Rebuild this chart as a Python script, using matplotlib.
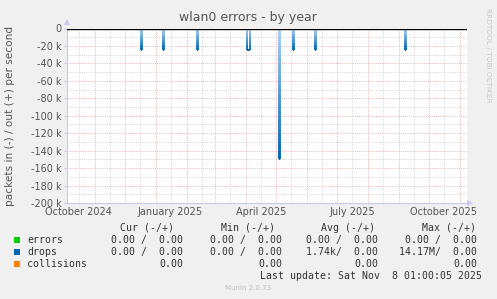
import matplotlib
matplotlib.use("Agg")
import matplotlib.pyplot as plt
import matplotlib.dates as mdates
from matplotlib.collections import LineCollection
from matplotlib.colors import LinearSegmentedColormap
import numpy as np
import pandas as pd

# ---- data ----
start_date = "2024-10-04"
end_date = "2025-11-08"
spike_dates = ["2024-12-17", "2025-01-08", "2025-02-11", "2025-04-02", "2025-04-03",
               "2025-04-04", "2025-05-04", "2025-05-18", "2025-06-09", "2025-09-07"]
spike_drops_in = [25000, 25000, 25000, 25000, 25000, 25000, 150000, 25000, 25000, 25000]
month_labels = ["October 2024", "January 2025", "April 2025", "July 2025", "October 2025"]
month_label_dates = ["2024-10-15", "2025-01-15", "2025-04-16", "2025-07-16", "2025-10-15"]
yticks = [0, -20000, -40000, -60000, -80000, -100000, -120000, -140000, -160000, -180000, -200000]
ytick_labels = ["0", "-20 k", "-40 k", "-60 k", "-80 k", "-100 k", "-120 k", "-140 k",
                "-160 k", "-180 k", "-200 k"]
legend_names = ["errors", "drops", "collisions"]
legend_colors = ["#00CC00", "#0066B3", "#FF8000"]
cur_vals = ["0.00 /  0.00", "0.00 /  0.00", "0.00"]
min_vals = ["0.00 /  0.00", "0.00 /  0.00", "0.00"]
avg_vals = ["0.00 /  0.00", "1.74k/  0.00", "0.00"]
max_vals = ["0.00 /  0.00", "14.17M/  0.00", "0.00"]

# ---- figure ----
W, H = 497, 299
fig = plt.figure(figsize=(W / 100, H / 100), dpi=100, facecolor="#F0F0F0")
x0, x1, ytop, ybot = 67, 467, 28.5, 203
ax = fig.add_axes([x0 / W, 1 - ybot / H, (x1 - x0) / W, (ybot - ytop) / H])
ax.set_facecolor("white")

days = pd.date_range(start_date, end_date, freq="D")
drops = pd.Series(0.0, index=days)
drops.loc[pd.to_datetime(spike_dates)] = spike_drops_in
yv = -drops.values
xv = mdates.date2num(days)

# step path (post), vertical edges shaded from light (top) to dark (bottom) per spike
cmap = LinearSegmentedColormap.from_list("drop", ["#A8D0F0", "#0066B3"])
segs, cols = [], []
n_sub = 30
for i in range(len(xv) - 1):
    # horizontal piece
    if yv[i] != 0:
        segs.append([(xv[i], yv[i]), (xv[i + 1], yv[i])])
        cols.append(cmap(1.0))
    # vertical edge at xv[i+1] from yv[i] to yv[i+1]
    a, b = yv[i], yv[i + 1]
    if a != b:
        depth = min(a, b)
        ys = np.linspace(a, b, n_sub + 1)
        for j in range(n_sub):
            segs.append([(xv[i + 1], ys[j]), (xv[i + 1], ys[j + 1])])
            frac = ((ys[j] + ys[j + 1]) / 2) / depth
            cols.append(cmap(frac))
    if i == 0 and yv[0] != 0:
        pass
lc = LineCollection(segs, colors=cols, linewidths=1.4, zorder=3, capstyle="butt")
ax.add_collection(lc)
ax.axhline(0, color="black", lw=1.0, zorder=4)

ax.set_xlim(pd.Timestamp(start_date), pd.Timestamp(end_date))
ax.set_ylim(-200000, 0)

# grid
major_months = pd.date_range("2024-11-01", "2025-11-01", freq="MS")
minor_mid = [d for d in pd.date_range("2024-10-01", "2025-11-01", freq="MS") + pd.Timedelta(days=15)]
for d in minor_mid:
    ax.axvline(d, color="#C8C8C8", lw=0.6, ls=(0, (1, 1.5)), zorder=1)
for d in major_months:
    ax.axvline(d, color="#E8A0A0", lw=0.6, ls=(0, (1, 1.5)), zorder=1)
for v in np.arange(-190000, 0, 20000):
    ax.axhline(v, color="#C8C8C8", lw=0.6, ls=(0, (1, 1.5)), zorder=1)
for v in yticks[1:]:
    ax.axhline(v, color="#E8A0A0", lw=0.6, ls=(0, (1, 1.5)), zorder=1)

for s in ["top", "right"]:
    ax.spines[s].set_visible(False)
for s in ["left", "bottom"]:
    ax.spines[s].set_color("#C8C8F0")
    ax.spines[s].set_linewidth(0.8)

ax.set_yticks(yticks)
ax.set_yticklabels(ytick_labels)
ax.tick_params(axis="y", length=2, color="#C8C8F0", labelsize=7, labelcolor="#555555", pad=2)
ax.set_xticks(pd.to_datetime(month_label_dates))
ax.set_xticklabels(month_labels)
ax.tick_params(axis="x", length=0, labelsize=7, labelcolor="#555555", pad=3)

# arrows
fig.patches.append(plt.Polygon([[(x0 - 3) / W, 1 - 25 / H], [(x0 + 3) / W, 1 - 25 / H],
                                [x0 / W, 1 - 19 / H]], closed=True, transform=fig.transFigure,
                               facecolor="#C8C8F0", edgecolor="none"))
fig.patches.append(plt.Polygon([[(x1) / W, 1 - (ybot - 3) / H], [(x1) / W, 1 - (ybot + 3) / H],
                                [(x1 + 6) / W, 1 - ybot / H]], closed=True, transform=fig.transFigure,
                               facecolor="#C8C8F0", edgecolor="none"))

# texts
fig.text(248 / W, 1 - 18 / H, "wlan0 errors - by year", ha="center", va="center",
         fontsize=9, color="#555555")
fig.text(10 / W, 1 - 116 / H, "packets in (-) / out (+) per second", rotation=90,
         ha="center", va="center", fontsize=7.6, color="#555555")
fig.text(488 / W, 1 - 55 / H, "RRDTOOL / TOBI OETIKER", rotation=270, ha="center",
         va="center", fontsize=5.3, color="#C8C8C8")

mono = "DejaVu Sans Mono"
fs = 7.1
tc = "#333333"
def t(x, y, s, ha="right", **kw):
    fig.text(x / W, 1 - y / H, s, ha=ha, va="center", fontsize=fs, family=mono, color=tc, **kw)

t(174, 228, "Cur (-/+)")
t(275, 228, "Min (-/+)")
t(375, 228, "Avg (-/+)")
t(476, 228, "Max (-/+)")
rows_y = [240, 252, 264]
for i, name in enumerate(legend_names):
    y = rows_y[i]
    fig.patches.append(plt.Rectangle((14 / W, 1 - (y + 3) / H), 6 / W, 6 / H,
                                     transform=fig.transFigure, facecolor=legend_colors[i],
                                     edgecolor="none"))
    t(27, y, name, ha="left")
    t(183, y, cur_vals[i])
    t(282, y, min_vals[i])
    t(378, y, avg_vals[i])
    t(477, y, max_vals[i])
t(482, 276, "Last update: Sat Nov  8 01:00:05 2025")
fig.text(248 / W, 1 - 288 / H, "Munin 2.0.73", ha="center", va="center", fontsize=5,
         color="#C0C0C0")

fig.savefig("out.png", dpi=100, facecolor=fig.get_facecolor())
